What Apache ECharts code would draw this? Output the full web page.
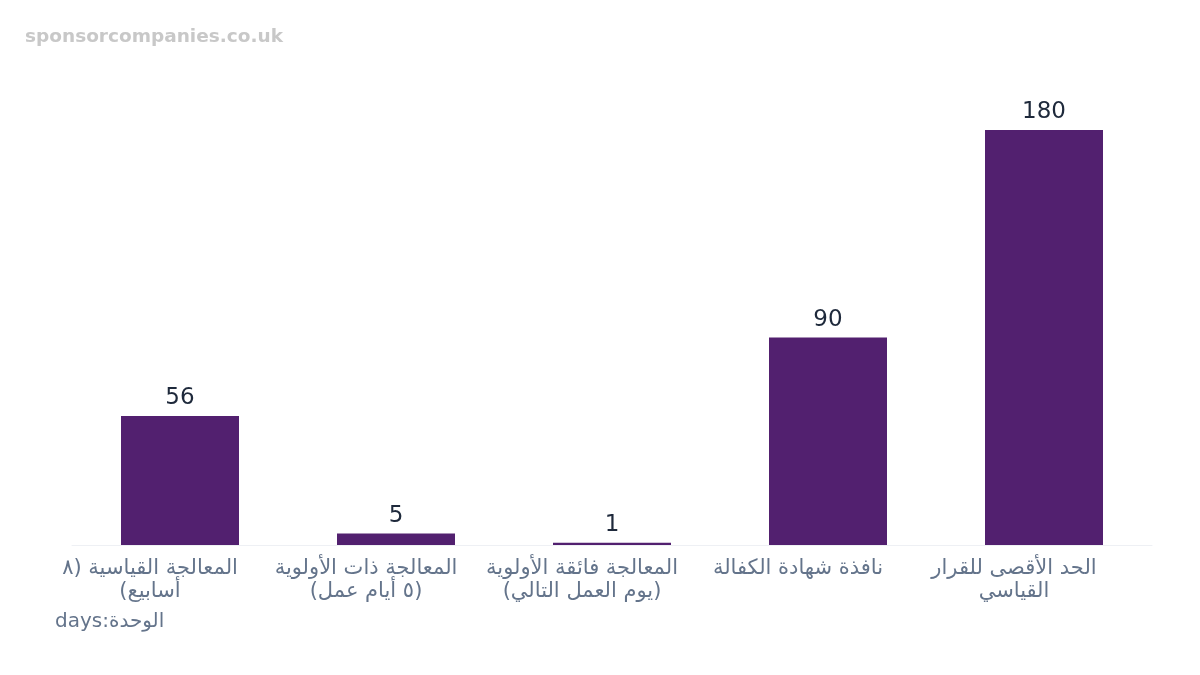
<!DOCTYPE html>
<html dir="rtl">
<head>
<meta charset="utf-8">
<script src="https://cdn.jsdelivr.net/npm/echarts@6/dist/echarts.min.js"></script>
<style>html,body{margin:0;padding:0;background:#fff;}#c{width:1200px;height:675px;}</style>
</head>
<body>
<div id="c"></div>
<script>
const categories = [
  'المعالجة القياسية (٨\nأسابيع)',
  'المعالجة ذات الأولوية\n(٥ أيام عمل)',
  'المعالجة فائقة الأولوية\n(يوم العمل التالي)',
  'نافذة شهادة الكفالة',
  'الحد الأقصى للقرار\nالقياسي'
];
const values = [56, 5, 1, 90, 180];
const unitLabel = 'الوحدة:days';
const watermark = 'sponsorcompanies.co.uk';

const chart = echarts.init(document.getElementById('c'));
chart.setOption({
  backgroundColor: '#ffffff',
  animation: false,
  grid: { left: 72, right: 48, top: 130, bottom: 130 },
  xAxis: {
    type: 'category',
    data: categories,
    axisLine: { show: true, lineStyle: { color: '#eef0f4', width: 1 } },
    axisTick: { show: false },
    axisLabel: {
      interval: 0,
      margin: 12,
      color: '#64748b',
      fontSize: 21,
      fontFamily: 'DejaVu Sans',
      lineHeight: 23,
      padding: [0, 60, 0, 0]
    }
  },
  yAxis: {
    type: 'value',
    min: 0,
    max: 180,
    show: false,
    splitLine: { show: false }
  },
  series: [{
    type: 'bar',
    data: values,
    barWidth: 118,
    itemStyle: { color: '#52206f' },
    label: {
      show: true,
      position: 'top',
      distance: 6,
      color: '#1e293b',
      fontSize: 23,
      fontFamily: 'DejaVu Sans'
    }
  }],
  graphic: [
    {
      type: 'text',
      left: 25,
      top: 28,
      style: {
        text: watermark,
        fill: '#c8c8c8',
        font: 'bold 18.5px "DejaVu Sans"',
        shadowColor: 'rgba(0,0,0,0.25)',
        shadowBlur: 2,
        shadowOffsetX: 1,
        shadowOffsetY: 1
      }
    },
    {
      type: 'text',
      left: 55,
      top: 612,
      style: {
        text: unitLabel,
        fill: '#64748b',
        font: '20px "DejaVu Sans"'
      }
    }
  ]
});
</script>
</body>
</html>
